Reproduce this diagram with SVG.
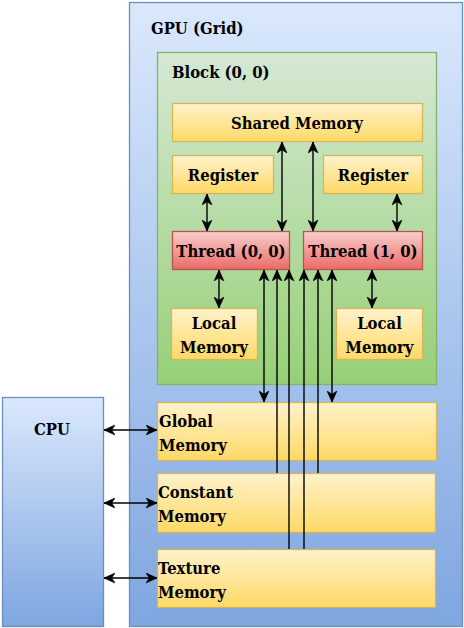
<svg xmlns="http://www.w3.org/2000/svg" width="464" height="628" viewBox="0 0 464 628">
<style>
.t{font-family:'DejaVu Serif Condensed','DejaVu Serif',serif;font-weight:700;font-size:16.5px;fill:#000}
.c{text-anchor:middle}
.blue{fill:url(#gBlue);stroke:#6c8ebf;stroke-width:1.3}
.green{fill:url(#gGreen);stroke:#82b366;stroke-width:1.3}
.yel{fill:url(#gYel);stroke:#d6b656;stroke-width:1.3}
.red{fill:url(#gRed);stroke:#b85450;stroke-width:1.3}
.ln{stroke:#000;stroke-width:1.4;fill:none}
.dbl{marker-start:url(#arr);marker-end:url(#arr)}
.up{marker-start:url(#arr)}
</style>
<defs>
<linearGradient id="gBlue" x1="0" y1="0" x2="0" y2="1"><stop offset="0" stop-color="#dae8fc"/><stop offset="1" stop-color="#7ea6e0"/></linearGradient>
<linearGradient id="gGreen" x1="0" y1="0" x2="0" y2="1"><stop offset="0" stop-color="#d5e8d4"/><stop offset="1" stop-color="#97d077"/></linearGradient>
<linearGradient id="gYel" x1="0" y1="0" x2="0" y2="1"><stop offset="0" stop-color="#fff2cc"/><stop offset="1" stop-color="#ffd966"/></linearGradient>
<linearGradient id="gRed" x1="0" y1="0" x2="0" y2="1"><stop offset="0" stop-color="#f8cecc"/><stop offset="1" stop-color="#ea6b66"/></linearGradient>
<marker id="arr" viewBox="0 0 10 10" refX="10" refY="5" markerWidth="11" markerHeight="11" markerUnits="userSpaceOnUse" orient="auto-start-reverse">
<path d="M0,0.5 L10,5 L0,9.5 L3,5 z" fill="#000" stroke="#000" stroke-width="0.6"/>
</marker>
</defs>

<g id="gpu"><rect class="blue" x="129.5" y="2.5" width="333" height="624"/><text class="t" x="151" y="34">GPU (Grid)</text></g>
<g id="cpu"><rect class="blue" x="2.5" y="397.5" width="101" height="229"/><text class="t c" x="52" y="435">CPU</text></g>
<g id="block"><rect class="green" x="157.5" y="52.5" width="279" height="332"/><text class="t" x="172" y="78">Block (0, 0)</text></g>
<g id="shared"><rect class="yel" x="172.5" y="103.5" width="250" height="38"/><text class="t c" x="297" y="129">Shared Memory</text></g>
<g id="reg0"><rect class="yel" x="172.5" y="155.5" width="101" height="38"/><text class="t c" x="223" y="181">Register</text></g>
<g id="reg1"><rect class="yel" x="323.5" y="155.5" width="99" height="38"/><text class="t c" x="373" y="181">Register</text></g>
<g id="thread0"><rect class="red" x="172.5" y="231.5" width="117" height="38"/><text class="t c" x="231" y="257">Thread (0, 0)</text></g>
<g id="thread1"><rect class="red" x="303.5" y="231.5" width="119" height="38"/><text class="t c" x="363" y="257">Thread (1, 0)</text></g>
<g id="local0"><rect class="yel" x="171.5" y="308.5" width="86" height="51"/><text class="t c" x="214" y="329">Local</text><text class="t c" x="214" y="353">Memory</text></g>
<g id="local1"><rect class="yel" x="336.5" y="308.5" width="86" height="51"/><text class="t c" x="379.5" y="329">Local</text><text class="t c" x="379.5" y="353">Memory</text></g>
<g id="global"><rect class="yel" x="157.5" y="402.5" width="279" height="58"/><text class="t" x="159" y="427">Global</text><text class="t" x="159" y="451">Memory</text></g>
<g id="constant"><rect class="yel" x="157.5" y="473.5" width="278" height="59"/><text class="t" x="158" y="498">Constant</text><text class="t" x="158" y="522">Memory</text></g>
<g id="texture"><rect class="yel" x="157.5" y="549.5" width="278" height="58"/><text class="t" x="158" y="574">Texture</text><text class="t" x="158" y="598">Memory</text></g>

<g id="connectors">
<line class="ln dbl" x1="207" y1="194" x2="207" y2="231"/>
<line class="ln dbl" x1="397" y1="194" x2="397" y2="231"/>
<line class="ln dbl" x1="282" y1="142" x2="282" y2="231"/>
<line class="ln dbl" x1="313" y1="142" x2="313" y2="231"/>
<line class="ln dbl" x1="219" y1="270" x2="219" y2="308"/>
<line class="ln dbl" x1="372" y1="270" x2="372" y2="308"/>
<line class="ln dbl" x1="264" y1="270" x2="264" y2="402"/>
<line class="ln dbl" x1="332" y1="270" x2="332" y2="402"/>
<line class="ln up" x1="277" y1="270" x2="277" y2="473"/>
<line class="ln up" x1="318" y1="270" x2="318" y2="473"/>
<line class="ln up" x1="289" y1="270" x2="289" y2="549"/>
<line class="ln up" x1="304" y1="270" x2="304" y2="549"/>
<line class="ln dbl" x1="104" y1="430" x2="157" y2="430"/>
<line class="ln dbl" x1="104" y1="503" x2="157" y2="503"/>
<line class="ln dbl" x1="104" y1="578" x2="157" y2="578"/>
</g>
</svg>
